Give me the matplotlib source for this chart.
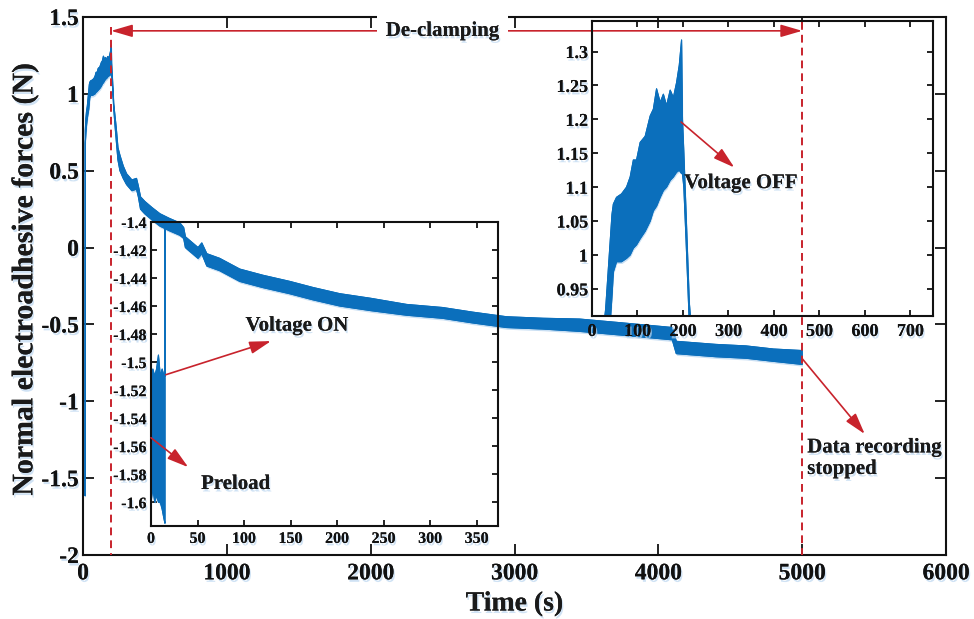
import matplotlib
matplotlib.use('Agg')
import matplotlib.pyplot as plt
import matplotlib.patheffects as pe
from matplotlib.ticker import FixedLocator, FixedFormatter

# ---------------- data ----------------
# time (s) and lower / upper envelope of the noisy force signal (N)
time_s = [0, 2, 4, 6, 8, 10, 12, 14, 15,
          16, 20, 25, 30, 33, 40, 44, 47, 54, 65, 76, 84, 91, 98, 106, 117,
          128, 135, 142, 150, 157, 164, 172, 179, 186, 192, 197, 199, 202,
          207, 214, 222, 231, 243, 257, 280, 303, 340, 372, 385, 400, 430,
          480, 535, 600, 674, 700, 712, 800, 826, 861, 950, 1090, 1250, 1437,
          1600, 1785, 2000, 2250, 2500, 2708, 2944, 3200, 3451, 3750, 4097,
          4125, 4400, 4611, 4800, 5000]
force_low = [-1.60, -1.59, -1.60, -1.595, -1.60, -1.60, -1.605, -1.612, -1.615,
             0.68, 0.74, 0.80, 0.84, 0.86, 0.90, 0.94, 0.975, 0.99, 0.99, 0.995,
             1.00, 1.01, 1.015, 1.024, 1.035, 1.05, 1.065, 1.072, 1.085, 1.095,
             1.10, 1.11, 1.115, 1.122, 1.125, 1.12, 1.12, 1.10, 1.02, 0.90,
             0.80, 0.70, 0.57, 0.50, 0.45, 0.41, 0.37, 0.38, 0.33, 0.25, 0.22,
             0.18, 0.14, 0.11, 0.08, 0.06, 0.00, -0.07, -0.04, -0.12, -0.15,
             -0.22, -0.26, -0.30, -0.34, -0.38, -0.41, -0.44, -0.46, -0.49,
             -0.52, -0.53, -0.545, -0.57, -0.60, -0.69, -0.71, -0.72, -0.74, -0.76]
force_high = [-1.51, -1.505, -1.51, -1.505, -1.495, -1.51, -1.505, -1.51, -1.51,
              0.76, 0.84, 0.89, 0.92, 0.95, 1.02, 1.06, 1.075, 1.085, 1.09, 1.10,
              1.115, 1.14, 1.14, 1.166, 1.175, 1.205, 1.215, 1.245, 1.225, 1.237,
              1.22, 1.243, 1.232, 1.254, 1.28, 1.317, 1.20, 1.15, 1.06, 0.93,
              0.86, 0.78, 0.65, 0.60, 0.53, 0.48, 0.44, 0.45, 0.40, 0.33, 0.30,
              0.26, 0.22, 0.19, 0.16, 0.13, 0.07, 0.00, 0.03, -0.04, -0.07,
              -0.14, -0.18, -0.22, -0.26, -0.30, -0.33, -0.37, -0.39, -0.42,
              -0.45, -0.46, -0.465, -0.49, -0.52, -0.61, -0.63, -0.64, -0.66, -0.67]

# main axes ticks
main_xticks = [0, 1000, 2000, 3000, 4000, 5000, 6000]
main_xlabels = ['0', '1000', '2000', '3000', '4000', '5000', '6000']
main_yticks = [-2, -1.5, -1, -0.5, 0, 0.5, 1, 1.5]
main_ylabels = ['-2', '-1.5', '-1', '-0.5', '0', '0.5', '1', '1.5']

# inset 1 (preload / voltage ON)
in1_xticks = [0, 50, 100, 150, 200, 250, 300, 350]
in1_xlabels = ['0', '50', '100', '150', '200', '250', '300', '350']
in1_yticks = [-1.6, -1.58, -1.56, -1.54, -1.52, -1.5, -1.48, -1.46, -1.44, -1.42, -1.4]
in1_ylabels = ['-1.6', '-1.58', '-1.56', '-1.54', '-1.52', '-1.5', '-1.48',
               '-1.46', '-1.44', '-1.42', '-1.4']

# inset 2 (voltage OFF)
in2_xticks = [0, 100, 200, 300, 400, 500, 600, 700]
in2_xlabels = ['0', '100', '200', '300', '400', '500', '600', '700']
in2_yticks = [0.95, 1.0, 1.05, 1.1, 1.15, 1.2, 1.25, 1.3]
in2_ylabels = ['0.95', '1', '1.05', '1.1', '1.15', '1.2', '1.25', '1.3']

# event times (s)
t_voltage_off = 195
t_stop = 5000

# ---------------- style ----------------
BLUE = '#0b6fbc'
RED = '#c8232c'
SHADOW = '#bcd7f0'
plt.rcParams['font.family'] = ['Liberation Serif', 'DejaVu Serif']
plt.rcParams['font.weight'] = 'bold'
plt.rcParams['axes.linewidth'] = 1.5

txt_fx = [pe.withSimplePatchShadow(offset=(1.0, -1.8), shadow_rgbFace=SHADOW, alpha=0.7),
          pe.Normal()]
band_fx = [pe.withSimplePatchShadow(offset=(0.6, -1.6), shadow_rgbFace=SHADOW, alpha=0.8),
           pe.Normal()]

W, H = 974, 619
fig = plt.figure(figsize=(W / 100, H / 100), dpi=100)


def px_rect(l, t, r, b):
    return [l / W, 1 - b / H, (r - l) / W, (b - t) / H]


def draw_band(a):
    a.fill_between(time_s, force_low, force_high, facecolor=BLUE, edgecolor=BLUE,
                   lw=0.8, zorder=2, path_effects=band_fx)


def style_axes(a, xt, xl, yt, yl, size, length, xpad, ypad):
    a.xaxis.set_major_locator(FixedLocator(xt))
    a.xaxis.set_major_formatter(FixedFormatter(xl))
    a.yaxis.set_major_locator(FixedLocator(yt))
    a.yaxis.set_major_formatter(FixedFormatter(yl))
    a.tick_params(direction='in', top=True, right=True, length=length, width=1.3,
                  labelsize=size, colors='#111111')
    a.tick_params(axis='x', pad=xpad)
    a.tick_params(axis='y', pad=ypad)
    for lab in a.get_xticklabels() + a.get_yticklabels():
        lab.set_fontweight('bold')
        lab.set_path_effects(txt_fx)
    for s in a.spines.values():
        s.set_color('#111111')


# ---------------- main axes ----------------
ax = fig.add_axes(px_rect(83, 17, 946, 555))
draw_band(ax)
ax.set_xlim(0, 6000)
ax.set_ylim(-2, 1.5)
style_axes(ax, main_xticks, main_xlabels, main_yticks, main_ylabels, 17, 8, 6, 3)

# dashed event lines
ax.plot([t_voltage_off, t_voltage_off], [1.435, -2], ls=(0, (4, 2.6)), color=RED, lw=1.4, zorder=3)
ax.plot([t_stop, t_stop], [1.47, -2], ls=(0, (4, 2.6)), color=RED, lw=1.4, zorder=3)

arrow_kw = dict(arrowstyle='-|>,head_length=1.3,head_width=0.38', color=RED, lw=1.2,
                mutation_scale=10, shrinkA=0, shrinkB=0)
y_arrow = 1.41
t_mid = 2500
ax.annotate('', xy=(t_voltage_off, y_arrow), xytext=(t_mid, y_arrow), arrowprops=arrow_kw, zorder=4)
ax.annotate('', xy=(t_stop, y_arrow), xytext=(t_mid, y_arrow), arrowprops=arrow_kw, zorder=4)
ax.text(t_mid, y_arrow, 'De-clamping', ha='center', va='center', fontsize=15,
        fontweight='bold', color='#1a1a1a', zorder=5, path_effects=txt_fx,
        bbox=dict(fc='white', ec='none', pad=6))

ax.annotate('', xy=(5435, -1.213), xytext=(4997, -0.719), arrowprops=arrow_kw, zorder=4)
ax.text(5035, -1.235, 'Data recording\nstopped', ha='left', va='top', fontsize=15,
        fontweight='bold', color='#1a1a1a', linespacing=1.1, path_effects=txt_fx, zorder=5)

fig.text(514.5 / W, 1 - 604 / H, 'Time (s)', ha='center', va='center', fontsize=20,
         fontweight='bold', color='#1a1a1a', path_effects=txt_fx)
fig.text(25 / W, 1 - 279 / H, 'Normal electroadhesive forces (N)', ha='center', va='center',
         rotation=90, fontsize=21.5, fontweight='bold', color='#1a1a1a', path_effects=txt_fx)

# ---------------- inset 1 ----------------
ax1 = fig.add_axes(px_rect(151, 222, 498, 526))
ax1.patch.set_alpha(0)
draw_band(ax1)
ax1.set_xlim(0, 373)
ax1.set_ylim(-1.617, -1.4)
style_axes(ax1, in1_xticks, in1_xlabels, in1_yticks, in1_ylabels, 11.5, 4, 3.5, 3)
ax1.annotate('', xy=(129, -1.485), xytext=(16, -1.509), arrowprops=arrow_kw, zorder=4)
ax1.text(157, -1.474, 'Voltage ON', ha='center', va='center', fontsize=15,
         fontweight='bold', color='#1a1a1a', path_effects=txt_fx, zorder=5)
ax1.annotate('', xy=(40, -1.575), xytext=(0, -1.554), arrowprops=arrow_kw, zorder=4,
             annotation_clip=False)
ax1.text(91, -1.587, 'Preload', ha='center', va='center', fontsize=15,
         fontweight='bold', color='#1a1a1a', path_effects=txt_fx, zorder=5)

# ---------------- inset 2 ----------------
ax2 = fig.add_axes(px_rect(592, 21, 933, 316))
ax2.patch.set_alpha(0)
draw_band(ax2)
ax2.set_xlim(0, 750)
ax2.set_ylim(0.91, 1.345)
style_axes(ax2, in2_xticks, in2_xlabels, in2_yticks, in2_ylabels, 13, 4, 5, 3)
ax2.annotate('', xy=(313, 1.129), xytext=(196, 1.196), arrowprops=arrow_kw, zorder=4)
ax2.text(328, 1.106, 'Voltage OFF', ha='center', va='center', fontsize=15,
         fontweight='bold', color='#1a1a1a', path_effects=txt_fx, zorder=5)

fig.savefig('out.png', dpi=100)
